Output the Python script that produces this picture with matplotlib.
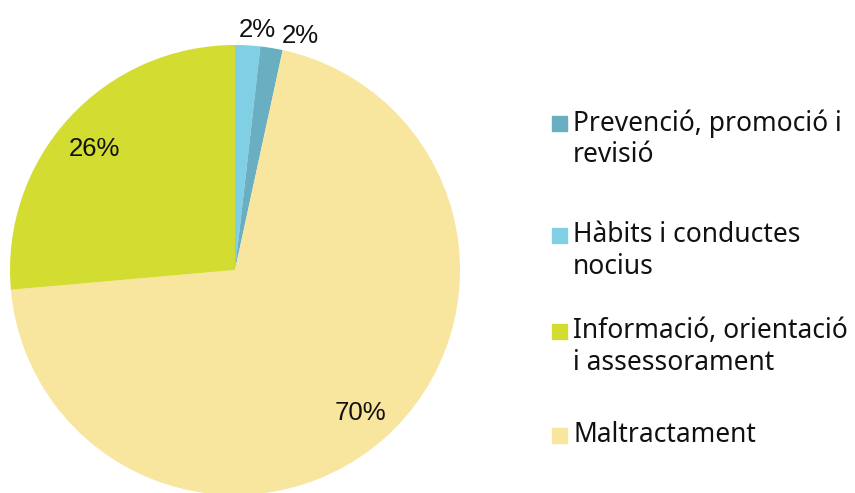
import matplotlib
matplotlib.use("Agg")
import matplotlib.pyplot as plt
from matplotlib.patches import Rectangle
import numpy as np

# dades (ordre horari des de dalt)
categories = ["Hàbits i conductes\nnocius", "Prevenció, promoció i\nrevisió",
              "Maltractament", "Informació, orientació\ni assessorament"]
valors = [1.8, 1.6, 70.2, 26.4]
etiquetes = ["2%", "2%", "70%", "26%"]
colors = ["#80cfe5", "#69afc1", "#f8e59e", "#d3dc31"]

# ordre de la llegenda
ordre_llegenda = [1, 0, 3, 2]

fig = plt.figure(figsize=(8.55, 4.93), dpi=100)
ax = fig.add_axes([10 / 855, (493 - 495) / 493, 450 / 855, 450 / 493])

wedges, _ = ax.pie(valors, colors=colors, startangle=90, counterclock=False,
                   wedgeprops=dict(linewidth=0))
ax.set_xlim(-1, 1)
ax.set_ylim(-1, 1)
ax.set_aspect("equal")

# etiquetes de percentatge (les petites fora del pastís)
pos_etiq = [(0.10, 1.065), (0.29, 1.04), None, None]
desp_y = [0, 0, -0.005, -0.03]
for w, txt, p, dy in zip(wedges, etiquetes, pos_etiq, desp_y):
    if p is None:
        ang = np.deg2rad((w.theta1 + w.theta2) / 2)
        p = (0.845 * np.cos(ang), 0.84 * np.sin(ang) + dy)
    ax.text(p[0], p[1], txt, ha="center", va="center", fontsize=18.5,
            family="Liberation Sans", color="#111111", clip_on=False)

# llegenda manual
y_centres = [123.5, 235.5, 331.5, 435.5]
for i, yc in zip(ordre_llegenda, y_centres):
    fig.patches.append(Rectangle((552 / 855, 1 - (yc + 7.5) / 493), 15 / 855, 15 / 493,
                                 transform=fig.transFigure, color=colors[i]))
    fig.text(573 / 855, 1 - (yc - 14) / 493, categories[i], ha="left", va="top",
             fontsize=19, family="Noto Sans", color="#111111", linespacing=1.15)

fig.savefig("out.png", dpi=100)
